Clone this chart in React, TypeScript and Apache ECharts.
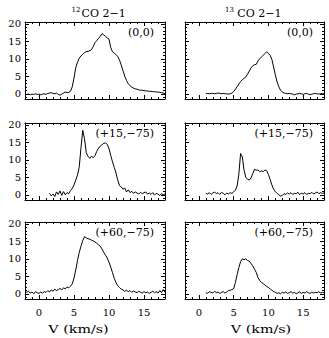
import React, { useEffect, useRef } from "react";
import * as echarts from "echarts";

// Channel width of all spectra (km/s)
const CHANNEL = 0.25;

// Velocity axis and brightness-temperature axis limits
const V_MIN = -2;
const V_MAX = 18;
const T_MIN = -1.5;
const T_MAX = 20.5;

const columnTitles = [
  { iso: "12", rest: "CO 2\u22121" },
  { iso: "13", rest: "CO 2\u22121" },
];
const positions = ["(0,0)", "(+15,\u221275)", "(+60,\u221275)"];
const xAxisName = "V (km/s)";

// 12CO 2-1 at (0,0), first channel at -2 km/s
const co12Pos1Start = -2.0;
const co12Pos1 = [
  0.0, -0.2, -0.1, -0.3, -0.1, -0.2, 0.0, -0.2,
  -0.1, -0.3, -0.1, 0.0, -0.2, 0.1, 0.2, 0.3,
  0.1, 0.0, 0.2, -0.2, -0.4, -0.1, 0.2, 0.5,
  0.3, 0.4, 0.7, 2.0, 4.5, 7.5, 9.0, 10.2,
  10.8, 11.3, 11.8, 12.0, 12.1, 12.3, 12.6, 13.5,
  14.6, 15.2, 15.8, 16.4, 17.2, 16.8, 16.4, 16.0,
  15.6, 13.2, 12.0, 11.6, 11.2, 10.6, 9.6, 8.2,
  6.6, 5.0, 3.8, 2.9, 2.3, 1.9, 1.6, 1.4,
  1.3, 1.1, 1.0, 1.0, 0.9, 0.8, 0.8, 0.7,
  0.7, 0.6, 0.6, 0.5, 0.5, 0.4, 0.3, 0.2,
  0.0,
];

// 13CO 2-1 at (0,0), first channel at 1 km/s
const co13Pos1Start = 1.0;
const co13Pos1 = [
  0.0, 0.1, 0.0, 0.1, 0.1, 0.0, 0.1, 0.2,
  0.1, 0.0, 0.1, 0.0, 0.0, -0.1, 0.0, 0.2,
  0.6, 1.3, 2.0, 2.8, 3.5, 4.0, 4.4, 4.8,
  5.6, 6.5, 7.4, 8.0, 8.3, 8.4, 9.4, 10.0,
  10.5, 11.0, 11.5, 12.0, 11.5, 11.0, 9.8, 7.6,
  5.4, 3.4, 2.0, 1.0, 0.5, 0.2, 0.1, 0.0,
  0.1, 0.0, -0.1, -0.3, -0.1, 0.0, 0.1, 0.0,
  -0.2, 0.0, 0.1, -0.1, -0.3, -0.1, 0.0, 0.1,
  0.0, -0.1, 0.0, 0.1, 0.0,
];

// 12CO 2-1 at (+15,-75), first channel at 1.5 km/s
const co12Pos2Start = 1.5;
const co12Pos2 = [
  0.4, -0.3, 0.2, -0.5, 0.8, 0.1,
  1.1, -0.2, 0.9, 0.0, 0.6, 0.3, 1.2, 1.8,
  2.8, 4.2, 5.6, 8.0, 13.5, 18.4, 16.0, 12.0,
  11.0, 10.4, 11.0, 10.6, 11.2, 12.4, 13.3, 13.9,
  14.3, 14.7, 14.8, 14.4, 13.2, 11.2, 9.4, 7.8,
  6.2, 4.2, 2.6, 2.2, 1.6, 1.9, 0.8, 1.4,
  0.6, 1.0, 0.4, 0.8, 0.5, 0.2, 0.7, 0.3,
  0.6, 0.8, 0.2, 0.5, 0.1, 0.6, -0.1, 0.4,
  0.2, -0.2, 0.3, 0.0, 0.2,
];

// 13CO 2-1 at (+15,-75), first channel at 1 km/s
const co13Pos2Start = 1.0;
const co13Pos2 = [
  0.4, 0.2, 0.6, 0.1, 0.5, 0.8, 0.3, 0.6,
  0.1, 0.7, 0.4, 0.0, 0.5, 0.2, 0.6, 0.4,
  0.8, 1.3, 2.5, 6.0, 11.8, 10.8, 7.0, 5.0,
  4.4, 4.2, 4.8, 6.0, 7.3, 7.0, 7.1, 6.6,
  6.8, 6.6, 7.1, 6.9, 5.8, 4.4, 2.8, 1.6,
  0.9, 0.4, 0.0, -0.4, -0.2, 0.3, 0.1, 0.5,
  0.2, 0.6, 0.1, 0.4, 0.3, 0.7, 0.0, 0.5,
  0.2, 0.6, 0.1, 0.4, 0.3, 0.7, 0.2, 0.5,
  0.8, 0.3, 0.6, 0.4, 0.5,
];

// 12CO 2-1 at (+60,-75), first channel at -2 km/s
const co12Pos3Start = -2.0;
const co12Pos3 = [
  0.8, 0.4, 0.7, 0.2, 0.5, 0.0, 0.6, 0.3,
  0.1, 0.5, 0.2, 0.6, 0.4, 0.9, 0.5, 1.1,
  0.7, 1.3, 0.9, 1.2, 1.5, 1.1, 1.7, 1.4,
  1.9, 1.7, 2.2, 2.8, 4.5, 6.8, 9.5, 11.8,
  13.6, 15.2, 16.3, 16.0, 15.7, 15.6, 15.3, 15.1,
  14.8, 14.4, 14.0, 13.6, 12.8, 11.8, 11.0, 10.2,
  9.0, 7.6, 6.0, 4.4, 3.2, 2.3, 1.8, 1.3,
  1.1, 0.7, 1.0, 0.6, 0.9, 0.4, 0.8, 0.5,
  0.3, 0.7, 0.4, 0.2, 0.6, 0.3, 0.5, 0.1,
  0.4, 0.7, 0.3, 0.6, 0.2, 0.9, 0.3, 1.2,
  0.4,
];

// 13CO 2-1 at (+60,-75), first channel at 1 km/s
const co13Pos3Start = 1.0;
const co13Pos3 = [
  0.3, 0.1, 0.6, 0.4, 0.2, 0.7, 0.3, 0.5,
  0.1, 0.4, 0.6, 0.2, 0.5, 0.9, 1.0, 1.2,
  1.4, 3.2, 5.5, 7.5, 9.2, 10.0, 9.7, 10.0,
  9.5, 9.3, 8.6, 8.0, 7.0, 6.1, 4.6, 3.8,
  3.2, 2.9, 2.5, 2.1, 1.8, 1.4, 1.0, 0.6,
  0.4, 0.1, 0.3, 0.0, 0.4, 0.2, 0.5, 0.1,
  0.3, 0.6, 0.2, 0.4, 0.0, 0.3, 0.5, 0.1,
  0.4, 0.2, 0.6, 0.3, 0.1, 0.5, 0.2, 0.4,
  0.3, 0.6, 0.2, 0.4, 0.3,
];

// Panels listed row by row: [12CO, 13CO] for each position
const spectra = [
  [co12Pos1Start, co12Pos1],
  [co13Pos1Start, co13Pos1],
  [co12Pos2Start, co12Pos2],
  [co13Pos2Start, co13Pos2],
  [co12Pos3Start, co12Pos3],
  [co13Pos3Start, co13Pos3],
] as [number, number[]][];

const FONT = "DejaVu Serif";
const BLACK = "#000";

// Panel geometry (px)
const colLeft = [25, 185];
const colWidth = [140, 139];
const rowTop = [22, 123, 222];
const panelHeight = 77;

function toPairs(start: number, values: number[]) {
  return values.map((t, i) => [start + i * CHANNEL, t]);
}

function axisBase(showLabels: boolean, labelMargin: number) {
  return {
    type: "value" as const,
    axisLine: { show: true, onZero: false, lineStyle: { color: BLACK, width: 1 } },
    axisTick: { show: true, inside: true, length: 4, lineStyle: { color: BLACK, width: 1 } },
    minorTick: { show: true, splitNumber: 5, length: 2, lineStyle: { color: BLACK, width: 1 } },
    splitLine: { show: false },
    minorSplitLine: { show: false },
    axisLabel: {
      show: showLabels,
      showMinLabel: false,
      showMaxLabel: false,
      margin: labelMargin,
      color: BLACK,
      fontFamily: FONT,
      fontSize: 10,
    },
  };
}

function buildOption() {
  const grid: any[] = [];
  const xAxis: any[] = [];
  const yAxis: any[] = [];
  const series: any[] = [];
  const graphic: any[] = [];

  spectra.forEach(([start, values], i) => {
    const row = Math.floor(i / 2);
    const col = i % 2;
    grid.push({
      left: colLeft[col],
      top: rowTop[row],
      width: colWidth[col],
      height: panelHeight,
      containLabel: false,
    });
    const xb = { ...axisBase(row === 2, 8), gridIndex: i, position: "bottom", min: V_MIN, max: V_MAX, splitNumber: 4 };
    const xt = { ...axisBase(false, 0), gridIndex: i, position: "top", min: V_MIN, max: V_MAX, splitNumber: 4 };
    const yl = { ...axisBase(col === 0, 4), gridIndex: i, position: "left", min: T_MIN, max: T_MAX, splitNumber: 5 };
    const yr = { ...axisBase(false, 0), gridIndex: i, position: "right", min: T_MIN, max: T_MAX, splitNumber: 5 };
    xAxis.push(xb, xt);
    yAxis.push(yl, yr);
    series.push({
      type: "line",
      xAxisIndex: 2 * i,
      yAxisIndex: 2 * i,
      data: toPairs(start, values),
      symbol: "none",
      lineStyle: { color: BLACK, width: 1 },
      silent: true,
    });

    // position label in the upper right corner of each panel
    graphic.push({
      type: "text",
      x: colLeft[col] + colWidth[col] - 11,
      y: rowTop[row] + 10,
      style: {
        text: positions[row],
        fill: BLACK,
        font: `11px "${FONT}"`,
        align: "right",
        verticalAlign: "middle",
      },
    });
  });

  // column titles with isotope superscripts
  const isoX = [71.5, 225];
  const restX = [81.5, 237.3];
  columnTitles.forEach((t, c) => {
    graphic.push({
      type: "text",
      x: isoX[c],
      y: 10,
      style: { text: t.iso, fill: BLACK, font: `7px "${FONT}"`, align: "left", verticalAlign: "middle" },
    });
    graphic.push({
      type: "text",
      x: restX[c],
      y: 13.5,
      style: { text: t.rest, fill: BLACK, font: `11px "${FONT}"`, align: "left", verticalAlign: "middle" },
    });
  });

  // velocity axis titles (wide lettering)
  const nameX = [78.5, 261];
  nameX.forEach((x) => {
    graphic.push({
      type: "text",
      x,
      y: 329,
      scaleX: 1.3,
      style: { text: xAxisName, fill: BLACK, font: `11px "${FONT}"`, align: "center", verticalAlign: "middle" },
    });
  });

  return {
    animation: false,
    backgroundColor: "#fff",
    grid,
    xAxis,
    yAxis,
    series,
    graphic,
  };
}

export default function App() {
  const ref = useRef<HTMLDivElement>(null);
  useEffect(() => {
    if (!ref.current) return;
    const chart = echarts.init(ref.current, undefined, { renderer: "svg" });
    chart.setOption(buildOption() as any);
    return () => chart.dispose();
  }, []);
  return (
    <div
      ref={ref}
      style={{ position: "fixed", left: 0, top: 0, width: 329, height: 338, background: "#fff" }}
    />
  );
}
